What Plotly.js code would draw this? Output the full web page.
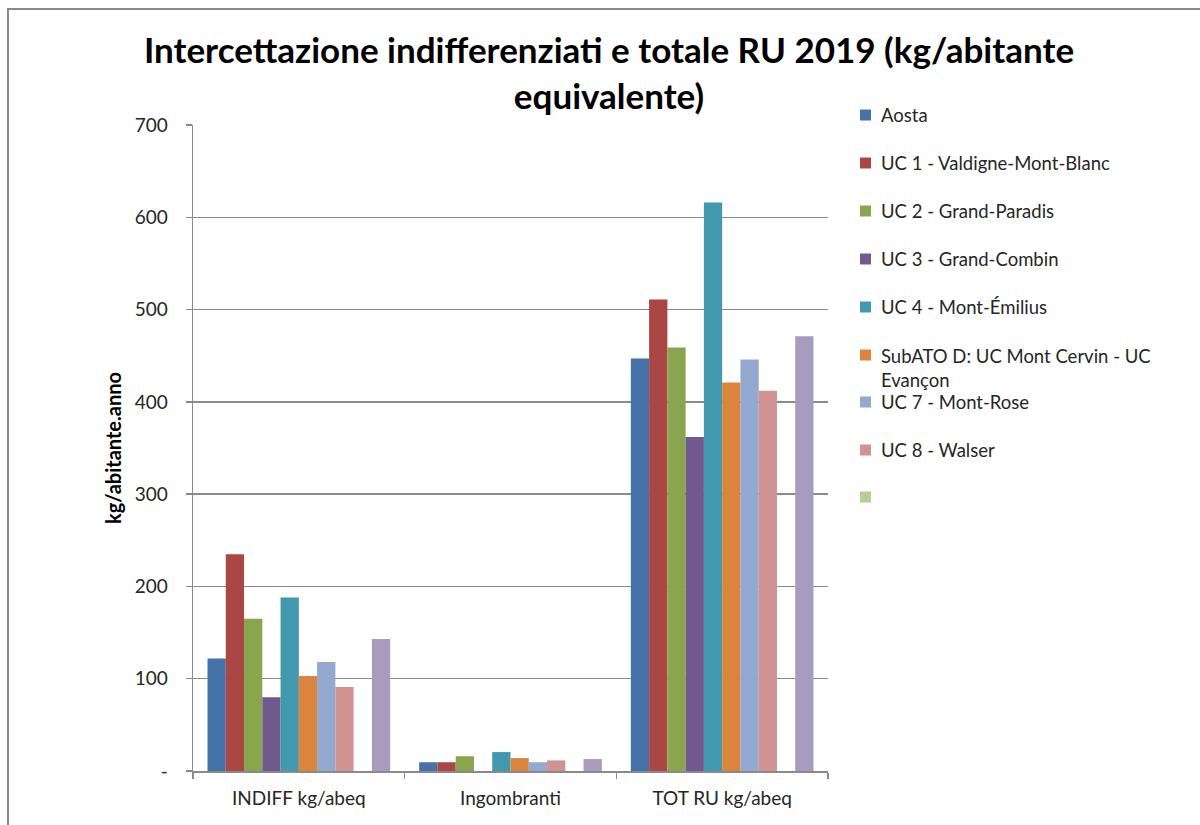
<!DOCTYPE html>
<html>
<head>
<meta charset="utf-8">
<script src="https://cdn.plot.ly/plotly-3.0.1.min.js"></script>
<style>
  html, body { margin: 0; padding: 0; background: #fff; }
  #wrap { position: relative; width: 1200px; height: 825px; overflow: hidden; }
  #chart { width: 1200px; height: 825px; }
  #frame { position: absolute; left: 7px; top: 8px; width: 1300px; height: 900px;
           border-left: 2px solid #8a8a8a; border-top: 2px solid #8a8a8a; pointer-events: none; }
</style>
</head>
<body>
<div id="wrap">
  <div id="chart"></div>
  <div id="frame"></div>
</div>
<script>
// ---- data ----
const categories = ['INDIFF kg/abeq', 'Ingombranti', 'TOT RU kg/abeq'];
const seriesNames = ['Aosta', 'UC 1 - Valdigne-Mont-Blanc', 'UC 2 - Grand-Paradis', 'UC 3 - Grand-Combin',
  'UC 4 - Mont-Émilius', 'SubATO D: UC Mont Cervin - UC Evançon', 'UC 7 - Mont-Rose', 'UC 8 - Walser', '', ''];
const aosta   = [122, 9.5, 447];
const uc1     = [235, 9.5, 511];
const uc2     = [165, 16, 459];
const uc3     = [80, 0, 362];
const uc4     = [188, 20.5, 616];
const subato  = [103, 14, 421];
const uc7     = [118, 9.5, 446];
const uc8     = [91, 11.5, 412];
const blank   = [0, 0, 0];
const extra   = [143, 13, 471];
const yTickVals = [0, 100, 200, 300, 400, 500, 600, 700];
const yTickText = ['-', '100', '200', '300', '400', '500', '600', '700'];

// ---- styles ----
const colors = ['#4572A7', '#AA4643', '#89A54E', '#71588F', '#4198AF', '#DB843D', '#93A9CF', '#D19392', '#B9CD96', '#A99BBD'];
const allSeries = [aosta, uc1, uc2, uc3, uc4, subato, uc7, uc8, blank, extra];
const inLegend = [true, true, true, true, true, true, true, true, true, false];
const FONT = 'Lato, "Open Sans", sans-serif';

const traces = allSeries.map((vals, i) => ({
  type: 'bar',
  name: seriesNames[i],
  x: categories,
  y: vals,
  marker: { color: colors[i] },
  showlegend: false,
  hoverinfo: 'x+y'
}));

// plot area in pixels
const L = 193, R = 828, T = 125, B = 771;
const px2x = p => (p - L) / (R - L);
const px2y = p => (B - p) / (B - T);

// manual legend (Excel-like spacing)
const legendRows = [115, 163, 211, 259, 307, 368, 402, 450, 497];
const shapes = [];
const annotations = [];
let row = 0;
seriesNames.forEach((nm, i) => {
  if (!inLegend[i]) return;
  const cy = (i === 5) ? 355 : legendRows[row];
  shapes.push({
    type: 'rect', xref: 'paper', yref: 'paper',
    x0: px2x(860), x1: px2x(871), y0: px2y(cy + 5.5), y1: px2y(cy - 5.5),
    fillcolor: colors[i], line: { width: 0 }
  });
  if (nm) {
    const label = (i === 5) ? 'SubATO D: UC Mont Cervin - UC<br>Evançon' : nm;
    annotations.push({
      xref: 'paper', yref: 'paper', x: px2x(879), y: px2y(legendRows[row]),
      xanchor: 'left', yanchor: 'middle', align: 'left', showarrow: false,
      text: label, font: { family: FONT, size: 18.5, color: '#262626' }
    });
  }
  row++;
});

const layout = {
  width: 1200, height: 825,
  margin: { l: L, r: 1200 - R, t: T, b: 825 - B, pad: 0 },
  paper_bgcolor: '#ffffff', plot_bgcolor: '#ffffff',
  font: { family: FONT, size: 19, color: '#262626' },
  title: {
    text: 'Intercettazione indifferenziati e totale RU 2019 (kg/abitante<br>equivalente)',
    font: { family: FONT, size: 35, color: '#000000', weight: 'bold' },
    xref: 'container', x: 609 / 1200, xanchor: 'center',
    yref: 'container', y: 1 - 63 / 825, yanchor: 'top'
  },
  barmode: 'group', bargap: 0.137, bargroupgap: 0,
  showlegend: false,
  xaxis: {
    type: 'category', showline: true, linecolor: '#8a8a8a', linewidth: 1.5,
    ticks: 'outside', tickson: 'boundaries', ticklen: 6, tickcolor: '#8a8a8a', tickwidth: 1.5,
    tickfont: { family: FONT, size: 19, color: '#262626' }, ticklabelstandoff: 10,
    showgrid: false, zeroline: false, fixedrange: true
  },
  yaxis: {
    range: [0, 700], tickvals: yTickVals, ticktext: yTickText,
    showline: true, linecolor: '#8a8a8a', linewidth: 1.5,
    ticks: 'outside', ticklen: 6, tickcolor: '#8a8a8a', tickwidth: 1.5,
    showgrid: true, gridcolor: '#8a8a8a', gridwidth: 1.5, zeroline: false,
    tickfont: { family: FONT, size: 19, color: '#262626' }, ticklabelstandoff: 14,
    title: { text: 'kg/abitante.anno', font: { family: FONT, size: 20, color: '#000000', weight: 'bold' }, standoff: 7 },
    fixedrange: true
  },
  shapes: shapes,
  annotations: annotations
};

Plotly.newPlot('chart', traces, layout, { displayModeBar: false, staticPlot: true });
</script>
</body>
</html>
